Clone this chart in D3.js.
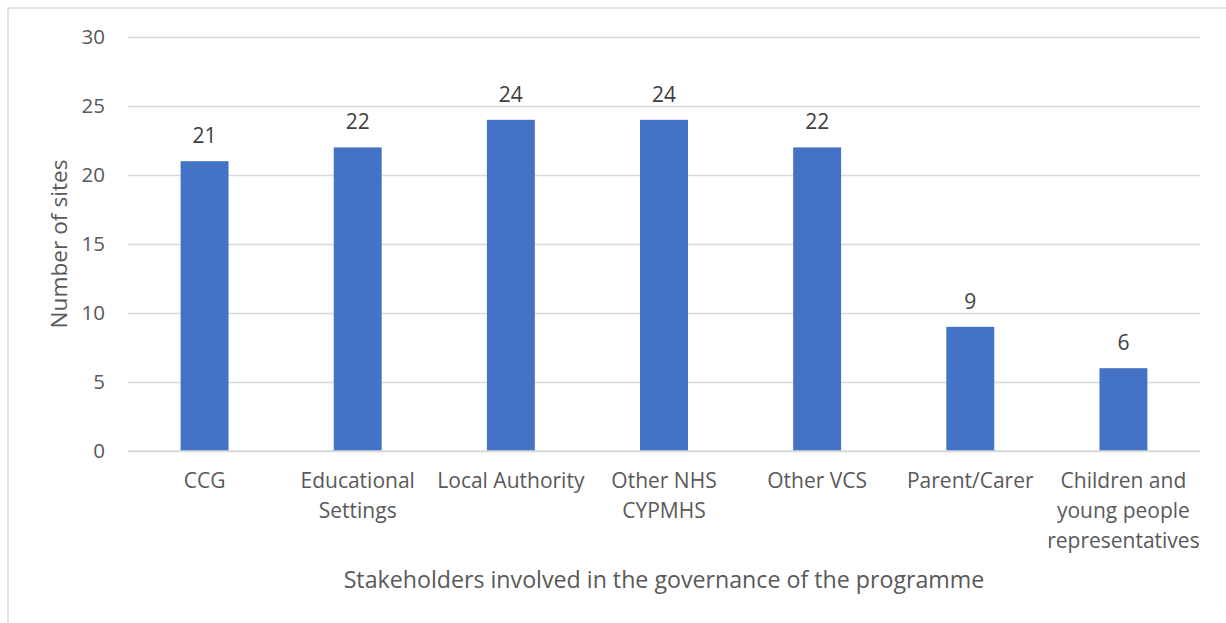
<!DOCTYPE html>
<html>
<head>
<meta charset="utf-8">
<script src="https://cdn.jsdelivr.net/npm/d3@7/dist/d3.min.js"></script>
<style>
  html, body { margin: 0; padding: 0; background: #ffffff; }
  svg { display: block; font-family: "Open Sans", "Noto Sans", sans-serif; }
</style>
</head>
<body>
<svg id="chart" width="1226" height="623"></svg>
<script>
// Stakeholder groups on the governance boards, and how many sites named each
const categories = [
  "CCG",
  "Educational Settings",
  "Local Authority",
  "Other NHS CYPMHS",
  "Other VCS",
  "Parent/Carer",
  "Children and young people representatives"
];
const siteCounts = [21, 22, 24, 24, 22, 9, 6];
const yTicks = [0, 5, 10, 15, 20, 25, 30];
const xTitle = "Stakeholders involved in the governance of the programme";
const yTitle = "Number of sites";

const svg = d3.select("#chart");
const W = 1226, H = 623;
const plot = { left: 128, right: 1200, top: 37, bottom: 451 };

// outer chart frame (continues past the right and bottom edges)
svg.append("rect")
  .attr("x", 8).attr("y", 8)
  .attr("width", W + 20).attr("height", H + 20)
  .attr("fill", "#ffffff")
  .attr("stroke", "#d9d9d9")
  .attr("stroke-width", 1.5);

const x = d3.scaleBand()
  .domain(categories)
  .range([plot.left, plot.right])
  .paddingInner(0.687)
  .paddingOuter(0.3435);

const y = d3.scaleLinear()
  .domain([0, 30])
  .range([plot.bottom, plot.top]);

// horizontal gridlines and value labels
const yAxis = d3.axisLeft(y)
  .tickValues(yTicks)
  .tickSize(-(plot.right - plot.left))
  .tickPadding(23)
  .tickFormat(d3.format("d"));

const gy = svg.append("g")
  .attr("transform", `translate(${plot.left},0)`)
  .call(yAxis);
gy.select(".domain").remove();
gy.selectAll(".tick line")
  .attr("stroke", "#d9d9d9")
  .attr("stroke-width", 1.3);
gy.selectAll(".tick text")
  .attr("fill", "#595959")
  .attr("font-size", 20.5)
  .attr("font-family", "'Open Sans', sans-serif");

// bars
svg.append("g")
  .selectAll("rect")
  .data(categories)
  .join("rect")
  .attr("x", d => x(d))
  .attr("width", x.bandwidth())
  .attr("y", (d, i) => y(siteCounts[i]))
  .attr("height", (d, i) => y(0) - y(siteCounts[i]))
  .attr("fill", "#4472c4");

// baseline
svg.append("line")
  .attr("x1", plot.left).attr("x2", plot.right)
  .attr("y1", y(0)).attr("y2", y(0))
  .attr("stroke", "#d9d9d9")
  .attr("stroke-width", 1.5);

// value labels above the bars
svg.append("g")
  .selectAll("text")
  .data(categories)
  .join("text")
  .attr("x", d => x(d) + x.bandwidth() / 2)
  .attr("y", (d, i) => y(siteCounts[i]) - 18)
  .attr("text-anchor", "middle")
  .attr("fill", "#404040")
  .attr("font-size", 21)
  .text((d, i) => siteCounts[i]);

// category labels, wrapped to the width of a band
const labelSize = 21;
const maxLine = 158;
const labelG = svg.append("g");
const probe = labelG.append("text").attr("font-size", labelSize).attr("visibility", "hidden");
function measure(s) { probe.text(s); return probe.node().getComputedTextLength(); }
function wrap(label) {
  const words = label.split(" ");
  const lines = [];
  let cur = "";
  words.forEach(w => {
    const trial = cur ? cur + " " + w : w;
    if (cur && measure(trial) > maxLine) { lines.push(cur); cur = w; }
    else cur = trial;
  });
  if (cur) lines.push(cur);
  return lines;
}
categories.forEach(c => {
  const lines = wrap(c);
  const t = labelG.append("text")
    .attr("text-anchor", "middle")
    .attr("fill", "#595959")
    .attr("font-size", labelSize)
    .attr("x", x(c) + x.bandwidth() / 2)
    .attr("y", 488);
  lines.forEach((ln, i) => {
    t.append("tspan")
      .attr("x", x(c) + x.bandwidth() / 2)
      .attr("dy", i === 0 ? 0 : 30)
      .text(ln);
  });
});
probe.remove();

// axis titles
svg.append("text")
  .attr("x", (plot.left + plot.right) / 2)
  .attr("y", 588)
  .attr("text-anchor", "middle")
  .attr("fill", "#595959")
  .attr("font-size", 23.2)
  .text(xTitle);

svg.append("text")
  .attr("transform", `translate(67,${(plot.top + plot.bottom) / 2}) rotate(-90)`)
  .attr("text-anchor", "middle")
  .attr("fill", "#595959")
  .attr("font-size", 22.7)
  .text(yTitle);
</script>
</body>
</html>
